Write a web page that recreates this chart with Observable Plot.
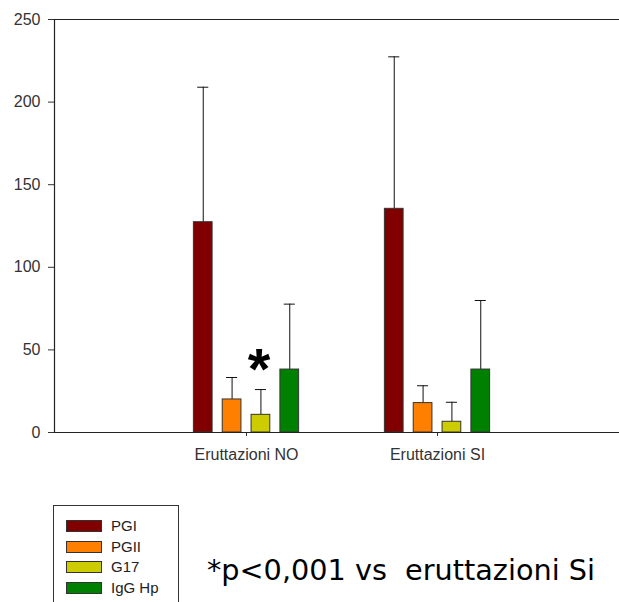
<!DOCTYPE html>
<html>
<head>
<meta charset="utf-8">
<script src="https://cdn.jsdelivr.net/npm/d3@7"></script>
<script src="https://cdn.jsdelivr.net/npm/@observablehq/plot@0.6"></script>
<style>
  html, body { margin: 0; padding: 0; background: #fff; }
  #wrap { position: relative; width: 619px; height: 602px; overflow: hidden; font-family: "Liberation Sans", Arial, sans-serif; }
  #chart svg { display: block; }
  #legend { position: absolute; left: 53px; top: 505px; width: 126px; height: 110px; border: 1px solid #333; box-sizing: border-box; }
  .row { position: absolute; left: 12px; height: 12px; }
  .sw { position: absolute; left: 0; top: 0; width: 36px; height: 12px; border: 1px solid #333; box-sizing: border-box; }
  .lab { position: absolute; left: 45px; top: -3px; font-size: 15px; color: #222; white-space: nowrap; }
  #note { position: absolute; left: 207px; top: 553px; font-family: "DejaVu Sans", sans-serif; font-size: 27px; color: #000; white-space: pre; }
</style>
</head>
<body>
<div id="wrap">
  <div id="chart"></div>
  <div id="legend"></div>
  <div id="note"></div>
</div>
<script>
// ---- data ----
const groups = ["Eruttazioni NO", "Eruttazioni SI"];
const series = ["PGI", "PGII", "G17", "IgG Hp"];
const colors = ["#800000", "#FF8000", "#CCCC00", "#008000"];
const meanNO = [127.3, 20.0, 10.7, 38.1];
const sdNO   = [81.7, 13.3, 15.3, 39.6];
const meanSI = [135.4, 17.8, 6.5, 38.1];
const sdSI   = [92.0, 10.5, 11.8, 41.8];
const yTicks = [0, 50, 100, 150, 200, 250];
const noteText = "*p<0,001 vs  eruttazioni Si";
const starMark = [{group: "Eruttazioni NO", series: "G17", y: 43, label: "*"}];

// ---- table ----
const table = [];
[meanNO, meanSI].forEach((means, gi) => {
  const sds = gi === 0 ? sdNO : sdSI;
  series.forEach((s, si) => table.push({group: groups[gi], gi: gi + 1, series: s, si, mean: means[si], sd: sds[si]}));
});

// layout within a group (in x-scale units; one group step = 1)
const barStep = 0.151, halfBar = 0.049, halfCap = 0.029;
const center = d => d.gi + (d.si - 1.5) * barStep;
const stars = starMark.map(d => ({...d, gi: groups.indexOf(d.group) + 1, si: series.indexOf(d.series)}));

const plot = Plot.plot({
  width: 619,
  height: 480,
  marginLeft: 54,
  marginRight: 0,
  marginTop: 19,
  marginBottom: 48,
  style: {fontFamily: "Liberation Sans, Arial, sans-serif", fontSize: "16px", color: "#333", background: "#fff"},
  x: {domain: [0, 3], range: [55, 628], ticks: [1, 2], tickFormat: d => groups[d - 1] ?? "", tickSize: 4, tickPadding: 12, label: null},
  y: {domain: [0, 250], ticks: yTicks, tickSize: 6, tickPadding: 8, label: null},
  color: {domain: series, range: colors},
  marks: [
    Plot.ruleX(table, {x: center, y1: d => d.mean, y2: d => d.mean + d.sd, stroke: "#111", strokeWidth: 1}),
    Plot.ruleY(table, {y: d => d.mean + d.sd, x1: d => center(d) - halfCap, x2: d => center(d) + halfCap, stroke: "#111", strokeWidth: 1}),
    Plot.rect(table, {x1: d => center(d) - halfBar, x2: d => center(d) + halfBar, y1: 0, y2: d => d.mean, fill: "series", stroke: "#333", strokeWidth: 1}),
    Plot.ruleY([0, 250], {stroke: "#222", strokeWidth: 1.2}),
    Plot.ruleX([0], {stroke: "#222", strokeWidth: 1.2, dx: -1}),
    Plot.text(stars, {x: d => center(d), y: "y", text: "label", fontSize: 58, fontWeight: "bold", fill: "#000", dx: -2, dy: 9})
  ]
});
document.getElementById("chart").appendChild(plot);

// legend
const legend = document.getElementById("legend");
series.forEach((s, i) => {
  const row = document.createElement("div");
  row.className = "row";
  row.style.top = (14 + i * 20.7) + "px";
  const sw = document.createElement("div");
  sw.className = "sw";
  sw.style.background = colors[i];
  const lab = document.createElement("div");
  lab.className = "lab";
  lab.textContent = s;
  row.appendChild(sw); row.appendChild(lab);
  legend.appendChild(row);
});

// note
const note = document.getElementById("note");
note.textContent = noteText;
const w = note.getBoundingClientRect().width;
if (w > 0) note.style.fontSize = (27 * 388 / w).toFixed(2) + "px";
</script>
</body>
</html>
